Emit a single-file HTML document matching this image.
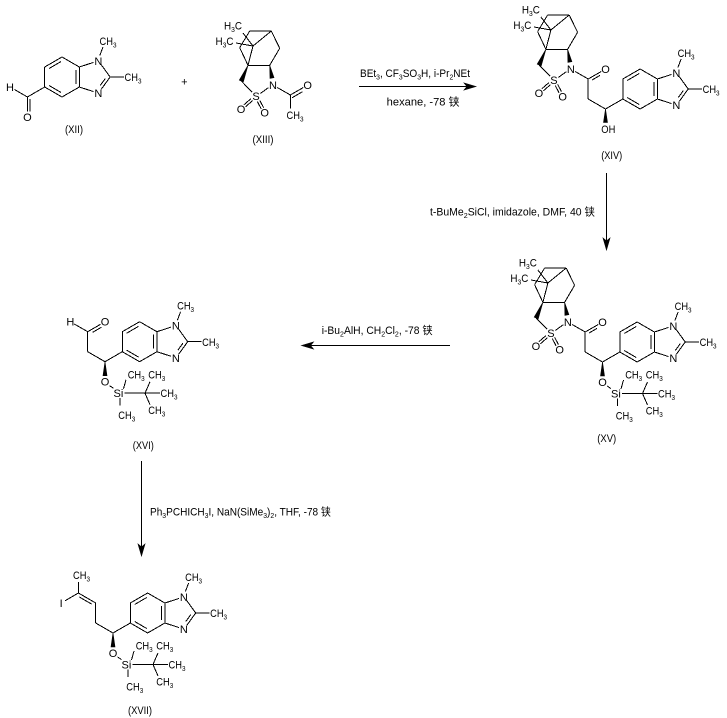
<!DOCTYPE html>
<html><head><meta charset="utf-8"><style>
html,body{margin:0;padding:0;background:#fff;}
svg{display:block}
line{stroke:#000;stroke-width:1;fill:none;shape-rendering:crispEdges}
polygon{fill:#000;stroke:#000;stroke-width:0.6}
text{font-family:"Liberation Sans","Noto Sans CJK SC",sans-serif;font-size:11px;fill:#000}
.s{font-size:7.5px}
.r{font-size:11px}
</style></head><body>
<svg width="727" height="718" viewBox="0 0 727 718" xmlns="http://www.w3.org/2000/svg">
<rect width="727" height="718" fill="#fff"/>

<!-- ===== XII ===== -->
<g transform="translate(62,77)">
<line x1="0" y1="-20" x2="17.3" y2="-10"/><line x1="17.3" y1="-10" x2="17.3" y2="10"/><line x1="17.3" y1="10" x2="0" y2="20"/><line x1="0" y1="20" x2="-17.3" y2="10"/><line x1="-17.3" y1="10" x2="-17.3" y2="-10"/><line x1="-17.3" y1="-10" x2="0" y2="-20"/>
<line x1="-12.9" y1="-8.5" x2="-0.9" y2="-15.5"/><line x1="-0.9" y1="15.5" x2="-12.9" y2="8.5"/><line x1="13.8" y1="-7" x2="13.8" y2="7"/>
<line x1="17.3" y1="-10" x2="31.5" y2="-14.6"/><line x1="39.3" y1="-12.2" x2="48.1" y2="0"/><line x1="48.1" y1="0" x2="39.3" y2="12.2"/><line x1="43.3" y1="1.5" x2="38.3" y2="8.4"/><line x1="31.5" y1="14.6" x2="17.3" y2="10"/>
<line x1="37.8" y1="-21.5" x2="41" y2="-30"/><line x1="48.1" y1="0" x2="62" y2="0"/>
<text x="36.3" y="-12.2" text-anchor="middle">N</text><text x="36.3" y="20.1" text-anchor="middle">N</text>
<text x="37.5" y="-32" textLength="17" lengthAdjust="spacingAndGlyphs">CH<tspan class="s" dy="2.5">3</tspan></text>
<text x="62.5" y="4.2" textLength="17" lengthAdjust="spacingAndGlyphs">CH<tspan class="s" dy="2.5">3</tspan></text>
</g>
<line x1="44.7" y1="87" x2="27.4" y2="97"/>
<line x1="27.4" y1="97" x2="27.4" y2="111.5"/>
<line x1="30.2" y1="99" x2="30.2" y2="111.5"/>
<line x1="27.4" y1="97" x2="14.5" y2="89.5"/>
<text x="10" y="91" text-anchor="middle">H</text>
<text x="27.4" y="121" text-anchor="middle">O</text>
<text x="74" y="133" text-anchor="middle" class="r" textLength="18" lengthAdjust="spacingAndGlyphs">(XII)</text>

<text x="184.3" y="85.5" text-anchor="middle" class="r">+</text>

<!-- ===== XIII ===== -->
<g transform="translate(273,85)">
<line x1="-25" y1="-19.7" x2="-3.3" y2="-19.7"/><line x1="-3.3" y1="-19.7" x2="6.7" y2="-36.7"/><line x1="6.7" y1="-36.7" x2="-1.7" y2="-54"/><line x1="-1.7" y1="-54" x2="-23.3" y2="-54"/><line x1="-23.3" y1="-54" x2="-33.3" y2="-37.3"/><line x1="-33.3" y1="-37.3" x2="-25" y2="-19.7"/>
<line x1="-20" y1="-39" x2="-1.7" y2="-54"/><line x1="-20" y1="-39" x2="-25" y2="-19.7"/><line x1="-20" y1="-39" x2="-30" y2="-52"/><line x1="-20" y1="-39" x2="-37" y2="-42"/>
<polygon points="-25,-19.7 -29.7,-3.1 -33.7,-4.9"/><polygon points="-3.3,-19.7 1,-7.4 -3,-6.6"/>
<line x1="-31.7" y1="-4" x2="-20.9" y2="7.1"/><line x1="-4.5" y1="2.6" x2="-12.5" y2="8.4"/>
<line x1="-20.4" y1="15.6" x2="-27.4" y2="21.7"/><line x1="-22" y1="13.6" x2="-29" y2="19.7"/>
<line x1="-13.3" y1="15.3" x2="-9.4" y2="22.6"/><line x1="-15.7" y1="16.5" x2="-11.8" y2="23.8"/>
<text x="0" y="4" text-anchor="middle">N</text><text x="-17" y="15" text-anchor="middle">S</text>
<text x="-32" y="28" text-anchor="middle">O</text><text x="-8.3" y="31.7" text-anchor="middle">O</text>
<text x="-49" y="-55.5" textLength="18" lengthAdjust="spacingAndGlyphs">H<tspan class="s" dy="2.5">3</tspan><tspan dy="-2.5">C</tspan></text>
<text x="-57.5" y="-40" textLength="18" lengthAdjust="spacingAndGlyphs">H<tspan class="s" dy="2.5">3</tspan><tspan dy="-2.5">C</tspan></text>
<line x1="4.3" y1="2.5" x2="17.3" y2="10"/>
<line x1="17.3" y1="10" x2="30.3" y2="2.5"/>
<line x1="19" y1="12.8" x2="29.5" y2="6.7"/>
<line x1="17.3" y1="10" x2="17.3" y2="23.5"/>
<text x="34.6" y="4" text-anchor="middle">O</text>
<text x="13.5" y="34" textLength="17" lengthAdjust="spacingAndGlyphs">CH<tspan class="s" dy="2.5">3</tspan></text>
</g>
<text x="263" y="143" text-anchor="middle" class="r" textLength="21" lengthAdjust="spacingAndGlyphs">(XIII)</text>

<!-- ===== Arrow 1 ===== -->
<text x="360" y="77" class="r" textLength="110" lengthAdjust="spacingAndGlyphs">BEt<tspan class="s" dy="2.5">3</tspan><tspan dy="-2.5">, CF</tspan><tspan class="s" dy="2.5">3</tspan><tspan dy="-2.5">SO</tspan><tspan class="s" dy="2.5">3</tspan><tspan dy="-2.5">H, i-Pr</tspan><tspan class="s" dy="2.5">2</tspan><tspan dy="-2.5">NEt</tspan></text>
<line x1="359" y1="86.5" x2="470" y2="86.5"/>
<polygon points="476,86.5 464,83 467,86.5 464,90"/>
<text x="386.7" y="105.5" class="r" textLength="73" lengthAdjust="spacingAndGlyphs">hexane, -78 铗</text>

<!-- ===== XIV ===== -->
<g transform="translate(605.5,109)">
<g transform="translate(-34.6,-40)">
<line x1="-25" y1="-19.7" x2="-3.3" y2="-19.7"/><line x1="-3.3" y1="-19.7" x2="6.7" y2="-36.7"/><line x1="6.7" y1="-36.7" x2="-1.7" y2="-54"/><line x1="-1.7" y1="-54" x2="-23.3" y2="-54"/><line x1="-23.3" y1="-54" x2="-33.3" y2="-37.3"/><line x1="-33.3" y1="-37.3" x2="-25" y2="-19.7"/>
<line x1="-20" y1="-39" x2="-1.7" y2="-54"/><line x1="-20" y1="-39" x2="-25" y2="-19.7"/><line x1="-20" y1="-39" x2="-30" y2="-52"/><line x1="-20" y1="-39" x2="-37" y2="-42"/>
<polygon points="-25,-19.7 -29.7,-3.1 -33.7,-4.9"/><polygon points="-3.3,-19.7 1,-7.4 -3,-6.6"/>
<line x1="-31.7" y1="-4" x2="-20.9" y2="7.1"/><line x1="-4.5" y1="2.6" x2="-12.5" y2="8.4"/>
<line x1="-20.4" y1="15.6" x2="-27.4" y2="21.7"/><line x1="-22" y1="13.6" x2="-29" y2="19.7"/>
<line x1="-13.3" y1="15.3" x2="-9.4" y2="22.6"/><line x1="-15.7" y1="16.5" x2="-11.8" y2="23.8"/>
<text x="0" y="4" text-anchor="middle">N</text><text x="-17" y="15" text-anchor="middle">S</text>
<text x="-32" y="28" text-anchor="middle">O</text><text x="-8.3" y="31.7" text-anchor="middle">O</text>
<text x="-49" y="-55.5" textLength="18" lengthAdjust="spacingAndGlyphs">H<tspan class="s" dy="2.5">3</tspan><tspan dy="-2.5">C</tspan></text>
<text x="-57.5" y="-40" textLength="18" lengthAdjust="spacingAndGlyphs">H<tspan class="s" dy="2.5">3</tspan><tspan dy="-2.5">C</tspan></text>
</g>
<line x1="-30.3" y1="-37.5" x2="-17.3" y2="-30"/>
<line x1="-17.3" y1="-30" x2="-4.3" y2="-37.5"/>
<line x1="-13.5" y1="-29" x2="-5.5" y2="-33.6"/>
<line x1="-17.3" y1="-30" x2="-17.3" y2="-10"/>
<line x1="-17.3" y1="-10" x2="0" y2="0"/>
<line x1="0" y1="0" x2="17.3" y2="-10"/>
<text x="0" y="-36" text-anchor="middle">O</text>
<g transform="translate(34.6,-20)">
<line x1="0" y1="-20" x2="17.3" y2="-10"/><line x1="17.3" y1="-10" x2="17.3" y2="10"/><line x1="17.3" y1="10" x2="0" y2="20"/><line x1="0" y1="20" x2="-17.3" y2="10"/><line x1="-17.3" y1="10" x2="-17.3" y2="-10"/><line x1="-17.3" y1="-10" x2="0" y2="-20"/>
<line x1="-12.9" y1="-8.5" x2="-0.9" y2="-15.5"/><line x1="-0.9" y1="15.5" x2="-12.9" y2="8.5"/><line x1="13.8" y1="-7" x2="13.8" y2="7"/>
<line x1="17.3" y1="-10" x2="31.5" y2="-14.6"/><line x1="39.3" y1="-12.2" x2="48.1" y2="0"/><line x1="48.1" y1="0" x2="39.3" y2="12.2"/><line x1="43.3" y1="1.5" x2="38.3" y2="8.4"/><line x1="31.5" y1="14.6" x2="17.3" y2="10"/>
<line x1="37.8" y1="-21.5" x2="41" y2="-30"/><line x1="48.1" y1="0" x2="62" y2="0"/>
<text x="36.3" y="-12.2" text-anchor="middle">N</text><text x="36.3" y="20.1" text-anchor="middle">N</text>
<text x="37.5" y="-32" textLength="17" lengthAdjust="spacingAndGlyphs">CH<tspan class="s" dy="2.5">3</tspan></text>
<text x="62.5" y="4.2" textLength="17" lengthAdjust="spacingAndGlyphs">CH<tspan class="s" dy="2.5">3</tspan></text>
</g>
<polygon points="0,0 2,13.5 -2,13.5"/>
<text x="-4.2" y="24" textLength="14" lengthAdjust="spacingAndGlyphs">OH</text>
</g>
<text x="611.7" y="159" text-anchor="middle" class="r" textLength="21" lengthAdjust="spacingAndGlyphs">(XIV)</text>

<!-- ===== Arrow 2 ===== -->
<line x1="606.5" y1="173" x2="606.5" y2="244"/>
<polygon points="606.5,250 603,238 606.5,241 610,238"/>
<text x="430" y="215.5" class="r" textLength="165" lengthAdjust="spacingAndGlyphs">t-BuMe<tspan class="s" dy="2.5">2</tspan><tspan dy="-2.5">SiCl, imidazole, DMF, 40 铗</tspan></text>

<!-- ===== XV ===== -->
<g transform="translate(602.5,362)">
<g transform="translate(-34.6,-40)">
<line x1="-25" y1="-19.7" x2="-3.3" y2="-19.7"/><line x1="-3.3" y1="-19.7" x2="6.7" y2="-36.7"/><line x1="6.7" y1="-36.7" x2="-1.7" y2="-54"/><line x1="-1.7" y1="-54" x2="-23.3" y2="-54"/><line x1="-23.3" y1="-54" x2="-33.3" y2="-37.3"/><line x1="-33.3" y1="-37.3" x2="-25" y2="-19.7"/>
<line x1="-20" y1="-39" x2="-1.7" y2="-54"/><line x1="-20" y1="-39" x2="-25" y2="-19.7"/><line x1="-20" y1="-39" x2="-30" y2="-52"/><line x1="-20" y1="-39" x2="-37" y2="-42"/>
<polygon points="-25,-19.7 -29.7,-3.1 -33.7,-4.9"/><polygon points="-3.3,-19.7 1,-7.4 -3,-6.6"/>
<line x1="-31.7" y1="-4" x2="-20.9" y2="7.1"/><line x1="-4.5" y1="2.6" x2="-12.5" y2="8.4"/>
<line x1="-20.4" y1="15.6" x2="-27.4" y2="21.7"/><line x1="-22" y1="13.6" x2="-29" y2="19.7"/>
<line x1="-13.3" y1="15.3" x2="-9.4" y2="22.6"/><line x1="-15.7" y1="16.5" x2="-11.8" y2="23.8"/>
<text x="0" y="4" text-anchor="middle">N</text><text x="-17" y="15" text-anchor="middle">S</text>
<text x="-32" y="28" text-anchor="middle">O</text><text x="-8.3" y="31.7" text-anchor="middle">O</text>
<text x="-49" y="-55.5" textLength="18" lengthAdjust="spacingAndGlyphs">H<tspan class="s" dy="2.5">3</tspan><tspan dy="-2.5">C</tspan></text>
<text x="-57.5" y="-40" textLength="18" lengthAdjust="spacingAndGlyphs">H<tspan class="s" dy="2.5">3</tspan><tspan dy="-2.5">C</tspan></text>
</g>
<line x1="-30.3" y1="-37.5" x2="-17.3" y2="-30"/>
<line x1="-17.3" y1="-30" x2="-4.3" y2="-37.5"/>
<line x1="-13.5" y1="-29" x2="-5.5" y2="-33.6"/>
<line x1="-17.3" y1="-30" x2="-17.3" y2="-10"/>
<line x1="-17.3" y1="-10" x2="0" y2="0"/>
<line x1="0" y1="0" x2="17.3" y2="-10"/>
<text x="0" y="-36" text-anchor="middle">O</text>
<g transform="translate(34.6,-20)">
<line x1="0" y1="-20" x2="17.3" y2="-10"/><line x1="17.3" y1="-10" x2="17.3" y2="10"/><line x1="17.3" y1="10" x2="0" y2="20"/><line x1="0" y1="20" x2="-17.3" y2="10"/><line x1="-17.3" y1="10" x2="-17.3" y2="-10"/><line x1="-17.3" y1="-10" x2="0" y2="-20"/>
<line x1="-12.9" y1="-8.5" x2="-0.9" y2="-15.5"/><line x1="-0.9" y1="15.5" x2="-12.9" y2="8.5"/><line x1="13.8" y1="-7" x2="13.8" y2="7"/>
<line x1="17.3" y1="-10" x2="31.5" y2="-14.6"/><line x1="39.3" y1="-12.2" x2="48.1" y2="0"/><line x1="48.1" y1="0" x2="39.3" y2="12.2"/><line x1="43.3" y1="1.5" x2="38.3" y2="8.4"/><line x1="31.5" y1="14.6" x2="17.3" y2="10"/>
<line x1="37.8" y1="-21.5" x2="41" y2="-30"/><line x1="48.1" y1="0" x2="62" y2="0"/>
<text x="36.3" y="-12.2" text-anchor="middle">N</text><text x="36.3" y="20.1" text-anchor="middle">N</text>
<text x="37.5" y="-32" textLength="17" lengthAdjust="spacingAndGlyphs">CH<tspan class="s" dy="2.5">3</tspan></text>
<text x="62.5" y="4.2" textLength="17" lengthAdjust="spacingAndGlyphs">CH<tspan class="s" dy="2.5">3</tspan></text>
</g>
<polygon points="0,0 2,14 -2,14"/>
<g transform="translate(0,20)">
<text x="0" y="4" text-anchor="middle">O</text>
<line x1="4.5" y1="4" x2="8.5" y2="6.5"/>
<text x="8.5" y="15.5">Si</text>
<line x1="18.5" y1="7" x2="21" y2="-2"/>
<text x="22.7" y="-3.3" textLength="17" lengthAdjust="spacingAndGlyphs">CH<tspan class="s" dy="2.5">3</tspan></text>
<line x1="19.5" y1="11.5" x2="40" y2="11.5"/>
<line x1="40" y1="11.5" x2="45" y2="0"/>
<text x="43.3" y="-3.3" textLength="17" lengthAdjust="spacingAndGlyphs">CH<tspan class="s" dy="2.5">3</tspan></text>
<line x1="40" y1="11.5" x2="55" y2="11.5"/>
<text x="55.5" y="15.5" textLength="17" lengthAdjust="spacingAndGlyphs">CH<tspan class="s" dy="2.5">3</tspan></text>
<line x1="40" y1="11.5" x2="45" y2="23"/>
<text x="43.3" y="32.3" textLength="17" lengthAdjust="spacingAndGlyphs">CH<tspan class="s" dy="2.5">3</tspan></text>
<line x1="15" y1="16.5" x2="15" y2="24"/>
<text x="13.3" y="37.3" textLength="17" lengthAdjust="spacingAndGlyphs">CH<tspan class="s" dy="2.5">3</tspan></text>
</g>
</g>
<text x="606.7" y="442" text-anchor="middle" class="r" textLength="19" lengthAdjust="spacingAndGlyphs">(XV)</text>

<!-- ===== Arrow 3 ===== -->
<text x="321.7" y="334" class="r" textLength="111" lengthAdjust="spacingAndGlyphs">i-Bu<tspan class="s" dy="2.5">2</tspan><tspan dy="-2.5">AlH, CH</tspan><tspan class="s" dy="2.5">2</tspan><tspan dy="-2.5">Cl</tspan><tspan class="s" dy="2.5">2</tspan><tspan dy="-2.5">, -78 铗</tspan></text>
<line x1="307" y1="345.5" x2="450" y2="345.5"/>
<polygon points="301.5,345.5 313.5,342 310.5,345.5 313.5,349"/>

<!-- ===== XVI ===== -->
<g transform="translate(139.6,341.7)">
<line x1="0" y1="-20" x2="17.3" y2="-10"/><line x1="17.3" y1="-10" x2="17.3" y2="10"/><line x1="17.3" y1="10" x2="0" y2="20"/><line x1="0" y1="20" x2="-17.3" y2="10"/><line x1="-17.3" y1="10" x2="-17.3" y2="-10"/><line x1="-17.3" y1="-10" x2="0" y2="-20"/>
<line x1="-12.9" y1="-8.5" x2="-0.9" y2="-15.5"/><line x1="-0.9" y1="15.5" x2="-12.9" y2="8.5"/><line x1="13.8" y1="-7" x2="13.8" y2="7"/>
<line x1="17.3" y1="-10" x2="31.5" y2="-14.6"/><line x1="39.3" y1="-12.2" x2="48.1" y2="0"/><line x1="48.1" y1="0" x2="39.3" y2="12.2"/><line x1="43.3" y1="1.5" x2="38.3" y2="8.4"/><line x1="31.5" y1="14.6" x2="17.3" y2="10"/>
<line x1="37.8" y1="-21.5" x2="41" y2="-30"/><line x1="48.1" y1="0" x2="62" y2="0"/>
<text x="36.3" y="-12.2" text-anchor="middle">N</text><text x="36.3" y="20.1" text-anchor="middle">N</text>
<text x="37.5" y="-32" textLength="17" lengthAdjust="spacingAndGlyphs">CH<tspan class="s" dy="2.5">3</tspan></text>
<text x="62.5" y="4.2" textLength="17" lengthAdjust="spacingAndGlyphs">CH<tspan class="s" dy="2.5">3</tspan></text>
</g>
<line x1="105" y1="361.7" x2="122.3" y2="351.7"/>
<line x1="105" y1="361.7" x2="87.7" y2="351.7"/>
<line x1="87.7" y1="351.7" x2="87.7" y2="331.7"/>
<line x1="87.7" y1="331.7" x2="100.7" y2="324.2"/>
<line x1="92.7" y1="332.3" x2="101.3" y2="327.3"/>
<line x1="87.7" y1="331.7" x2="74.3" y2="324"/>
<text x="70.4" y="325.7" text-anchor="middle">H</text>
<text x="105" y="325.7" text-anchor="middle">O</text>
<g transform="translate(105,361.7)">
<polygon points="0,0 2,14 -2,14"/>
<g transform="translate(0,20)">
<text x="0" y="4" text-anchor="middle">O</text>
<line x1="4.5" y1="4" x2="8.5" y2="6.5"/>
<text x="8.5" y="15.5">Si</text>
<line x1="18.5" y1="7" x2="21" y2="-2"/>
<text x="22.7" y="-3.3" textLength="17" lengthAdjust="spacingAndGlyphs">CH<tspan class="s" dy="2.5">3</tspan></text>
<line x1="19.5" y1="11.5" x2="40" y2="11.5"/>
<line x1="40" y1="11.5" x2="45" y2="0"/>
<text x="43.3" y="-3.3" textLength="17" lengthAdjust="spacingAndGlyphs">CH<tspan class="s" dy="2.5">3</tspan></text>
<line x1="40" y1="11.5" x2="55" y2="11.5"/>
<text x="55.5" y="15.5" textLength="17" lengthAdjust="spacingAndGlyphs">CH<tspan class="s" dy="2.5">3</tspan></text>
<line x1="40" y1="11.5" x2="45" y2="23"/>
<text x="43.3" y="32.3" textLength="17" lengthAdjust="spacingAndGlyphs">CH<tspan class="s" dy="2.5">3</tspan></text>
<line x1="15" y1="16.5" x2="15" y2="24"/>
<text x="13.3" y="37.3" textLength="17" lengthAdjust="spacingAndGlyphs">CH<tspan class="s" dy="2.5">3</tspan></text>
</g>
</g>
<text x="143.3" y="449" text-anchor="middle" class="r" textLength="21" lengthAdjust="spacingAndGlyphs">(XVI)</text>

<!-- ===== Arrow 4 ===== -->
<line x1="141.5" y1="461" x2="141.5" y2="550"/>
<polygon points="141.5,556 138,544 141.5,547 145,544"/>
<text x="150" y="515.5" class="r" textLength="181" lengthAdjust="spacingAndGlyphs">Ph<tspan class="s" dy="2.5">3</tspan><tspan dy="-2.5">PCHICH</tspan><tspan class="s" dy="2.5">3</tspan><tspan dy="-2.5">I, NaN(SiMe</tspan><tspan class="s" dy="2.5">3</tspan><tspan dy="-2.5">)</tspan><tspan class="s" dy="2.5">2</tspan><tspan dy="-2.5">, THF, -78 铗</tspan></text>

<!-- ===== XVII ===== -->
<g transform="translate(147.6,613)">
<line x1="0" y1="-20" x2="17.3" y2="-10"/><line x1="17.3" y1="-10" x2="17.3" y2="10"/><line x1="17.3" y1="10" x2="0" y2="20"/><line x1="0" y1="20" x2="-17.3" y2="10"/><line x1="-17.3" y1="10" x2="-17.3" y2="-10"/><line x1="-17.3" y1="-10" x2="0" y2="-20"/>
<line x1="-12.9" y1="-8.5" x2="-0.9" y2="-15.5"/><line x1="-0.9" y1="15.5" x2="-12.9" y2="8.5"/><line x1="13.8" y1="-7" x2="13.8" y2="7"/>
<line x1="17.3" y1="-10" x2="31.5" y2="-14.6"/><line x1="39.3" y1="-12.2" x2="48.1" y2="0"/><line x1="48.1" y1="0" x2="39.3" y2="12.2"/><line x1="43.3" y1="1.5" x2="38.3" y2="8.4"/><line x1="31.5" y1="14.6" x2="17.3" y2="10"/>
<line x1="37.8" y1="-21.5" x2="41" y2="-30"/><line x1="48.1" y1="0" x2="62" y2="0"/>
<text x="36.3" y="-12.2" text-anchor="middle">N</text><text x="36.3" y="20.1" text-anchor="middle">N</text>
<text x="37.5" y="-32" textLength="17" lengthAdjust="spacingAndGlyphs">CH<tspan class="s" dy="2.5">3</tspan></text>
<text x="62.5" y="4.2" textLength="17" lengthAdjust="spacingAndGlyphs">CH<tspan class="s" dy="2.5">3</tspan></text>
</g>
<line x1="113" y1="633" x2="130.3" y2="623"/>
<line x1="113" y1="633" x2="95.7" y2="623"/>
<line x1="95.7" y1="623" x2="95.7" y2="603"/>
<line x1="95.7" y1="603" x2="78.4" y2="593"/>
<line x1="91.6" y1="604.1" x2="79.5" y2="597.1"/>
<line x1="78.4" y1="593" x2="65" y2="600.8"/>
<line x1="78.4" y1="593" x2="78.4" y2="582"/>
<text x="61.1" y="607" text-anchor="middle">I</text>
<text x="73" y="579" textLength="17" lengthAdjust="spacingAndGlyphs">CH<tspan class="s" dy="2.5">3</tspan></text>
<g transform="translate(113,633)">
<polygon points="0,0 2,14 -2,14"/>
<g transform="translate(0,20)">
<text x="0" y="4" text-anchor="middle">O</text>
<line x1="4.5" y1="4" x2="8.5" y2="6.5"/>
<text x="8.5" y="15.5">Si</text>
<line x1="18.5" y1="7" x2="21" y2="-2"/>
<text x="22.7" y="-3.3" textLength="17" lengthAdjust="spacingAndGlyphs">CH<tspan class="s" dy="2.5">3</tspan></text>
<line x1="19.5" y1="11.5" x2="40" y2="11.5"/>
<line x1="40" y1="11.5" x2="45" y2="0"/>
<text x="43.3" y="-3.3" textLength="17" lengthAdjust="spacingAndGlyphs">CH<tspan class="s" dy="2.5">3</tspan></text>
<line x1="40" y1="11.5" x2="55" y2="11.5"/>
<text x="55.5" y="15.5" textLength="17" lengthAdjust="spacingAndGlyphs">CH<tspan class="s" dy="2.5">3</tspan></text>
<line x1="40" y1="11.5" x2="45" y2="23"/>
<text x="43.3" y="32.3" textLength="17" lengthAdjust="spacingAndGlyphs">CH<tspan class="s" dy="2.5">3</tspan></text>
<line x1="15" y1="16.5" x2="15" y2="24"/>
<text x="13.3" y="37.3" textLength="17" lengthAdjust="spacingAndGlyphs">CH<tspan class="s" dy="2.5">3</tspan></text>
</g>
</g>
<text x="140" y="714" text-anchor="middle" class="r" textLength="24" lengthAdjust="spacingAndGlyphs">(XVII)</text>
</svg>
</body></html>
